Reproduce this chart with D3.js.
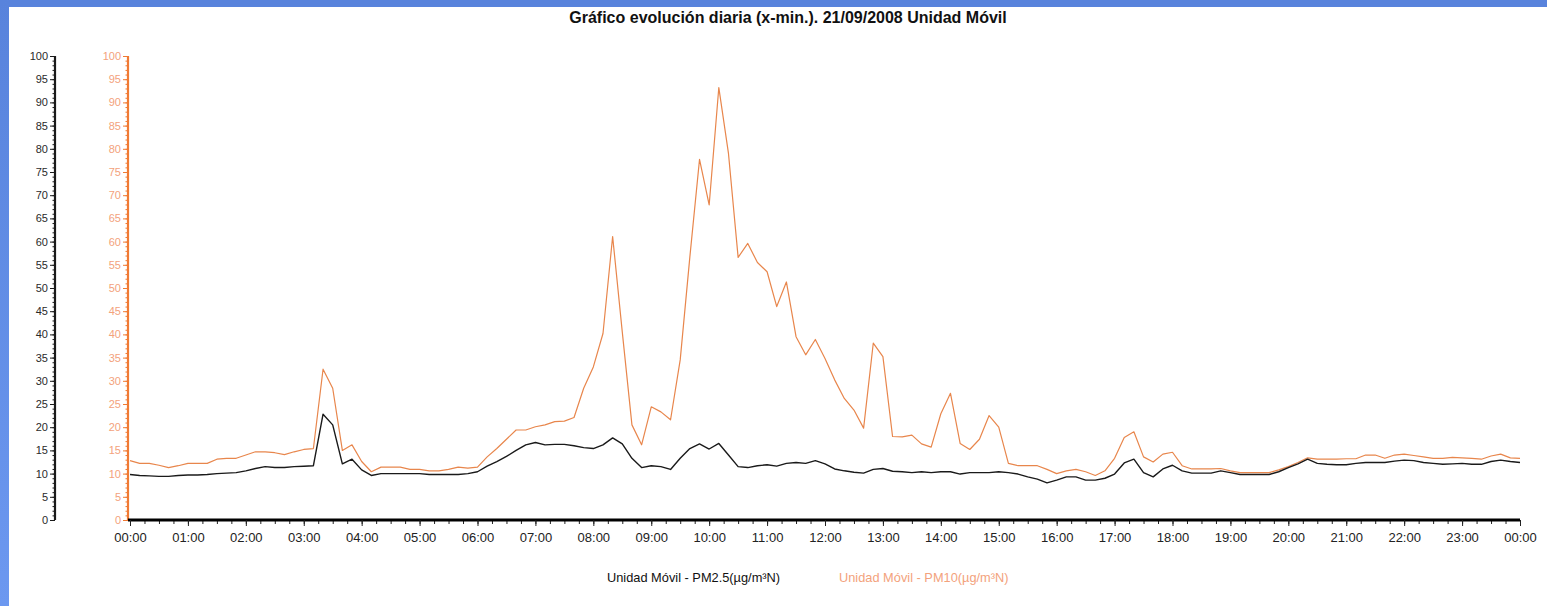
<!DOCTYPE html>
<html>
<head>
<meta charset="utf-8">
<script src="https://cdn.jsdelivr.net/npm/d3@7"></script>
<style>
  html, body { margin: 0; padding: 0; background: #ffffff; }
  svg { display: block; font-family: "Liberation Sans", Arial, sans-serif; }
</style>
</head>
<body>
<svg id="chart" width="1547" height="606"></svg>
<script>
// ---- data (10-minute readings, 00:00 .. 24:00) ----
const stepMinutes = 10;
const pm25 = [
  9.8,9.6,9.5,9.4,9.4,9.6,9.7,9.7,9.8,10.0,
  10.1,10.2,10.6,11.1,11.5,11.3,11.3,11.5,11.6,11.7,
  22.8,20.5,12.1,13.1,10.8,9.6,10.0,10.0,10.0,10.0,
  10.0,9.8,9.8,9.8,9.8,10.0,10.4,11.6,12.6,13.7,
  15.0,16.2,16.7,16.2,16.3,16.3,16.0,15.6,15.4,16.2,
  17.7,16.4,13.3,11.3,11.7,11.5,10.9,13.3,15.4,16.4,
  15.3,16.5,14.0,11.5,11.3,11.7,11.9,11.6,12.2,12.4,
  12.2,12.8,12.1,11.0,10.6,10.3,10.1,10.9,11.1,10.5,
  10.4,10.2,10.4,10.2,10.4,10.4,9.9,10.2,10.2,10.2,
  10.4,10.2,9.9,9.3,8.8,8.0,8.6,9.3,9.3,8.6,
  8.6,9.0,9.9,12.3,13.1,10.2,9.3,11.0,11.8,10.6,
  10.1,10.1,10.1,10.6,10.2,9.8,9.8,9.8,9.8,10.4,
  11.3,12.1,13.1,12.2,12.0,11.9,11.9,12.2,12.4,12.4,
  12.4,12.7,12.9,12.8,12.4,12.2,12.0,12.1,12.2,12.0,
  12.0,12.6,12.9,12.6,12.4
];
const pm10 = [
  12.8,12.2,12.2,11.8,11.3,11.7,12.2,12.2,12.2,13.1,
  13.3,13.3,14.0,14.7,14.7,14.5,14.1,14.7,15.2,15.4,
  32.5,28.4,15.0,16.2,12.6,10.4,11.4,11.4,11.4,10.9,
  10.9,10.6,10.6,10.9,11.4,11.2,11.4,13.6,15.4,17.4,
  19.4,19.4,20.1,20.5,21.2,21.3,22.1,28.4,33.0,40.2,
  61.1,40.5,20.5,16.2,24.4,23.3,21.6,34.5,56.7,77.7,
  67.9,93.2,79.0,56.6,59.6,55.5,53.5,46.0,51.3,39.5,
  35.6,38.9,34.8,30.2,26.2,23.7,19.8,38.1,35.2,18.0,
  17.9,18.3,16.4,15.7,22.9,27.3,16.5,15.2,17.4,22.5,
  20.0,12.2,11.7,11.7,11.7,10.9,10.0,10.6,10.9,10.4,
  9.6,10.6,13.3,17.8,19.0,13.6,12.5,14.2,14.6,11.7,
  11.0,11.0,11.0,11.1,10.6,10.2,10.2,10.2,10.2,10.8,
  11.5,12.4,13.4,13.1,13.1,13.1,13.2,13.2,14.0,14.0,
  13.3,14.0,14.2,13.9,13.6,13.3,13.3,13.5,13.4,13.3,
  13.1,13.8,14.2,13.4,13.3
];
const hourLabels = ["00:00","01:00","02:00","03:00","04:00","05:00","06:00","07:00",
  "08:00","09:00","10:00","11:00","12:00","13:00","14:00","15:00","16:00","17:00",
  "18:00","19:00","20:00","21:00","22:00","23:00","00:00"];
const yTicks = [0,5,10,15,20,25,30,35,40,45,50,55,60,65,70,75,80,85,90,95,100];
const titleText = "Gráfico evolución diaria (x-min.). 21/09/2008 Unidad Móvil";
const legendLabels = ["Unidad Móvil - PM2.5(µg/m³N)", "Unidad Móvil - PM10(µg/m³N)"];

// ---- styling ----
const colBlack = "#1a1a1a";
const colOrangeAxis = "#f07a34";
const colOrangeText = "#f3a27c";
const colOrangeLine = "#e8864c";

const svg = d3.select("#chart");

// blue frame
const defs = svg.append("defs");
const grad = defs.append("linearGradient").attr("id","lg").attr("x1",0).attr("x2",0).attr("y1",0).attr("y2",1);
grad.append("stop").attr("offset","0%").attr("stop-color","#5883dc");
grad.append("stop").attr("offset","100%").attr("stop-color","#6c98f0");
svg.append("rect").attr("x",0).attr("y",0).attr("width",1547).attr("height",7).attr("fill","#5883dc");
svg.append("rect").attr("x",0).attr("y",0).attr("width",9).attr("height",606).attr("fill","url(#lg)");

// scales
const x = d3.scaleLinear().domain([0, 1440]).range([130, 1520]);
const yL = d3.scaleLinear().domain([0, 100]).range([520, 56]);
const yR = d3.scaleLinear().domain([0, 100]).range([520, 56]);

// title
svg.append("text").attr("x", 788).attr("y", 23).attr("text-anchor","middle")
  .attr("font-size", 16).attr("font-weight","bold").attr("fill","#111").text(titleText);

// y axis helper
function yAxis(scale, xPos, lineColor, textColor) {
  const g = svg.append("g").attr("transform", `translate(${xPos},0)`);
  const minor = g.append("g").call(d3.axisLeft(scale).tickValues(d3.range(0,101,1)).tickSize(2.5).tickFormat(""));
  minor.select(".domain").remove();
  minor.selectAll("line").attr("stroke", lineColor).attr("stroke-width", 1);
  const major = g.append("g").call(d3.axisLeft(scale).tickValues(yTicks).tickSize(5).tickPadding(2).tickFormat(d3.format("d")));
  major.select(".domain").attr("stroke", lineColor).attr("stroke-width", 2.2).attr("d", `M0,${scale(0)}V${scale(100)}`);
  major.selectAll("line").attr("stroke", lineColor).attr("stroke-width", 1);
  major.selectAll("text").attr("fill", textColor).attr("font-size", 11)
    .attr("font-family", "'Liberation Sans', Arial, sans-serif");
}
yAxis(yL, 55, colBlack, "#2a2a2a");
yAxis(yR, 128, colOrangeAxis, colOrangeText);

// x axis
const gx = svg.append("g").attr("transform", "translate(0,520)");
const xm = gx.append("g").call(d3.axisBottom(x).tickValues(d3.range(0,1441,15)).tickSize(4).tickFormat(""));
xm.select(".domain").remove();
xm.selectAll("line").attr("stroke", "#222").attr("stroke-width", 1);
const xM = gx.append("g").call(d3.axisBottom(x).tickValues(d3.range(0,1441,60)).tickSize(6).tickPadding(7)
  .tickFormat((d,i) => hourLabels[i]));
xM.select(".domain").attr("stroke", "#000").attr("stroke-width", 3).attr("d", `M${x(0)-2},0H${x(1440)}`);
xM.selectAll("line").attr("stroke", "#222").attr("stroke-width", 1);
xM.selectAll("text").attr("fill", "#222").attr("font-size", 13)
  .attr("font-family", "'Liberation Sans', Arial, sans-serif");

// lines
const lineL = d3.line().x((d,i) => x(i*stepMinutes)).y(d => yL(d));
const lineR = d3.line().x((d,i) => x(i*stepMinutes)).y(d => yR(d));
svg.append("path").datum(pm10).attr("d", lineR).attr("fill","none")
  .attr("stroke", colOrangeLine).attr("stroke-width", 1.2).attr("stroke-linejoin","round");
svg.append("path").datum(pm25).attr("d", lineL).attr("fill","none")
  .attr("stroke", colBlack).attr("stroke-width", 1.4).attr("stroke-linejoin","round");

// legend
svg.append("text").attr("x", 607).attr("y", 582).attr("font-size", 12.8).attr("fill", "#111").text(legendLabels[0]);
svg.append("text").attr("x", 839).attr("y", 582).attr("font-size", 12.8).attr("fill", colOrangeText).text(legendLabels[1]);
</script>
</body>
</html>
